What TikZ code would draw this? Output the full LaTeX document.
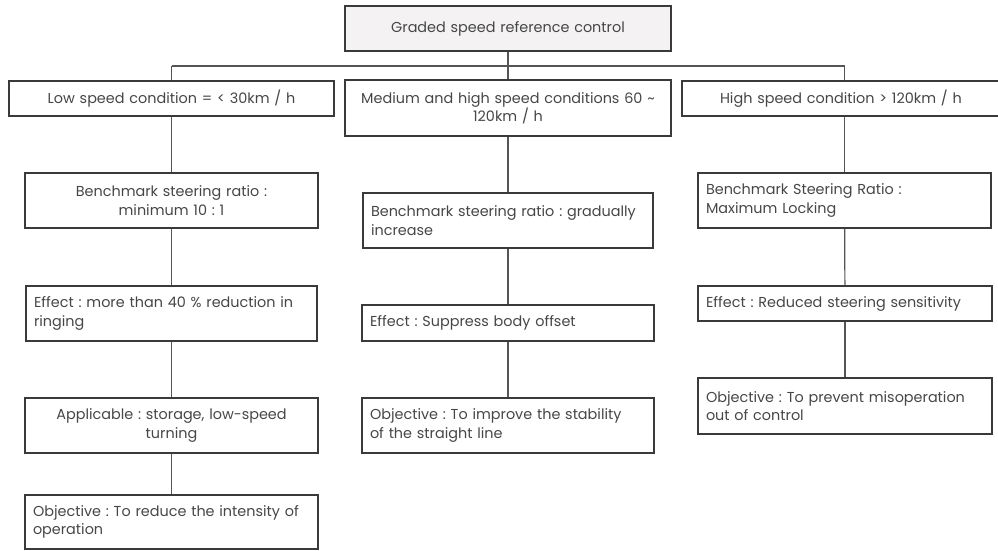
\documentclass[tikz,border=0pt]{standalone}
\usepackage{fontspec}
\setmainfont{Poppins}
\frenchspacing
\definecolor{boxc}{HTML}{3A3A3A}
\definecolor{linec}{HTML}{555555}
\definecolor{txtc}{HTML}{464646}
\definecolor{rootfill}{HTML}{F4F2F2}
\newcommand\mkbox[8][]{%
  \pgfmathsetmacro\bw{#4-#3}%
  \pgfmathsetmacro\bh{#6-#5}%
  \pgfmathsetmacro\tw{#4-#3-16}%
  \pgfmathsetmacro\cx{(#3+#4)/2}%
  \pgfmathsetmacro\cy{(#5+#6)/2}%
  \node[box, minimum width=\bw pt, minimum height=\bh pt, text width=\tw pt, align=#7, #1] (#2) at (\cx,\cy) {#8};%
}
\begin{document}
\begin{tikzpicture}[x=1pt,y=-1pt,
  box/.style={draw=boxc, line width=1.6pt, rectangle, inner xsep=8pt, inner ysep=0pt,
    font=\fontsize{14.4}{18.5}\selectfont, text=txtc},
  conn/.style={draw=linec, line width=1.2pt}]
\useasboundingbox (0,0) rectangle (998,551);
% top level
\mkbox[fill=rootfill]{root}{345}{671}{6}{51}{center}{Graded speed reference control}
\mkbox{low}{9}{334}{81}{116}{center}{Low speed condition = {\char`<} 30km / h}
\mkbox{med}{345}{671}{80}{136}{center}{Medium and high speed conditions 60 \char`~\\120km / h}
\mkbox{high}{682}{1002}{81}{116}{left}{\hspace*{30pt}High speed condition {\char`>} 120km / h}
% low column
\mkbox{b1}{25}{318}{173}{228}{center}{Benchmark steering ratio :\\minimum 10 : 1}
\mkbox{e1}{26}{317}{286}{341}{left}{Effect : more than 40 \% reduction in\\ringing}
\mkbox{a1}{25}{318}{398}{453}{center}{Applicable : storage, low-speed\\turning}
\mkbox{o1}{25}{318}{495}{549}{left}{Objective : To reduce the intensity of\\operation}
% medium column
\mkbox{b2}{363}{653}{193}{248}{left}{Benchmark steering ratio : gradually\\increase}
\mkbox{e2}{362}{654}{305}{341}{left}{Effect : Suppress body offset}
\mkbox{o2}{362}{654}{398}{453}{left}{Objective : To improve the stability\\of the straight line}
% high column
\mkbox{b3}{698}{991}{173}{228}{left}{Benchmark Steering Ratio :\\Maximum Locking}
\mkbox{e3}{698}{992}{286}{321}{left}{Effect : Reduced steering sensitivity}
\mkbox{o3}{698}{992}{378}{434}{left}{Objective : To prevent misoperation\\out of control}
% connectors
\coordinate (busL) at (171.5,66);
\coordinate (busM) at (508,66);
\coordinate (busR) at (844.5,66);
\draw[conn] (root.south) -- (busM);
\draw[conn] (busM) -- (med.north);
\draw[conn] (busL) -- (busR);
\draw[conn] (busL) -- (busL |- low.north);
\draw[conn] (busR) -- (busR |- high.north);
\draw[conn] (low) -- (b1);
\draw[conn] (b1) -- (e1);
\draw[conn] (e1) -- (a1);
\draw[conn] (a1) -- (o1);
\draw[conn] (med.south -| b2.north) -- (b2.north);
\draw[conn] (b2) -- (e2);
\draw[conn] (e2) -- (o2);
\draw[conn] (busR |- high.south) -- (b3.north -| busR);
\draw[conn] (b3) -- (e3);
\draw[conn] (e3) -- (o3);
\end{tikzpicture}
\end{document}
